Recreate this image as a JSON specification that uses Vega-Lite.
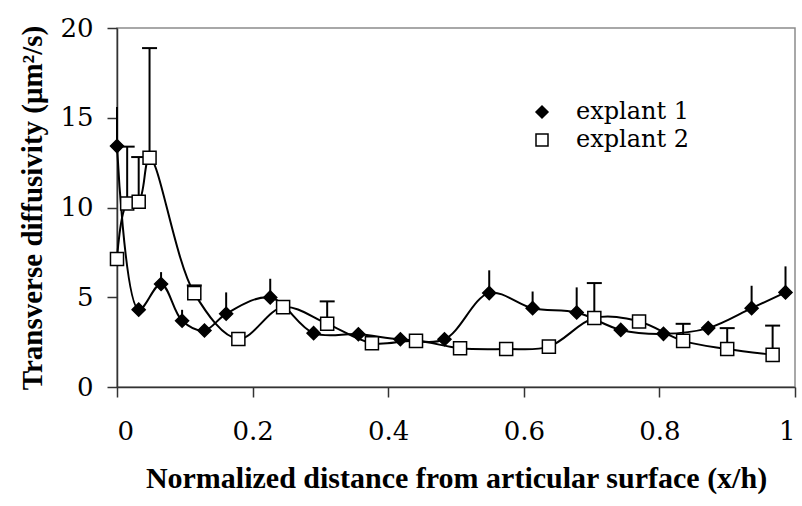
{
  "$schema": "https://vega.github.io/schema/vega-lite/v6.json",
  "width": 678,
  "height": 359,
  "autosize": {"type": "none"},
  "padding": {"left": 117, "top": 28, "right": 7, "bottom": 119},
  "background": "white",
  "config": {
    "view": {"stroke": "#8c8c8c", "strokeWidth": 1.5},
    "axis": {
      "grid": false,
      "domainColor": "#333333",
      "domainWidth": 1.5,
      "tickColor": "#333333",
      "tickWidth": 1.5,
      "tickSize": 10,
      "labelColor": "black",
      "labelFont": "Nimbus Roman, DejaVu Serif",
      "labelFontSize": 26,
      "titleFont": "Liberation Serif",
      "titleFontWeight": "bold",
      "titleColor": "black"
    },
    "legend": {
      "title": null,
      "orient": "none",
      "legendX": 413,
      "legendY": 72,
      "padding": 0,
      "rowPadding": 4,
      "symbolSize": 144,
      "labelFont": "Nimbus Roman, DejaVu Serif",
      "labelFontSize": 24,
      "labelColor": "black",
      "labelOffset": 22
    }
  },
  "datasets": {
    "pts": [
      {"x": 0.0, "y": 13.42, "s": "explant 1"},
      {"x": 0.032, "y": 4.31, "s": "explant 1"},
      {"x": 0.065, "y": 5.74, "s": "explant 1"},
      {"x": 0.096, "y": 3.69, "s": "explant 1"},
      {"x": 0.129, "y": 3.15, "s": "explant 1"},
      {"x": 0.161, "y": 4.08, "s": "explant 1"},
      {"x": 0.226, "y": 4.99, "s": "explant 1"},
      {"x": 0.29, "y": 3.0, "s": "explant 1"},
      {"x": 0.356, "y": 2.94, "s": "explant 1"},
      {"x": 0.418, "y": 2.66, "s": "explant 1"},
      {"x": 0.483, "y": 2.66, "s": "explant 1"},
      {"x": 0.549, "y": 5.23, "s": "explant 1"},
      {"x": 0.613, "y": 4.39, "s": "explant 1"},
      {"x": 0.678, "y": 4.15, "s": "explant 1"},
      {"x": 0.743, "y": 3.18, "s": "explant 1"},
      {"x": 0.806, "y": 2.96, "s": "explant 1"},
      {"x": 0.872, "y": 3.28, "s": "explant 1"},
      {"x": 0.936, "y": 4.39, "s": "explant 1"},
      {"x": 0.986, "y": 5.27, "s": "explant 1"},
      {"x": 0.0, "y": 7.13, "s": "explant 2"},
      {"x": 0.015, "y": 10.22, "s": "explant 2"},
      {"x": 0.032, "y": 10.32, "s": "explant 2"},
      {"x": 0.048, "y": 12.77, "s": "explant 2"},
      {"x": 0.114, "y": 5.23, "s": "explant 2"},
      {"x": 0.179, "y": 2.68, "s": "explant 2"},
      {"x": 0.245, "y": 4.45, "s": "explant 2"},
      {"x": 0.31, "y": 3.52, "s": "explant 2"},
      {"x": 0.376, "y": 2.44, "s": "explant 2"},
      {"x": 0.441, "y": 2.57, "s": "explant 2"},
      {"x": 0.506, "y": 2.16, "s": "explant 2"},
      {"x": 0.574, "y": 2.12, "s": "explant 2"},
      {"x": 0.637, "y": 2.25, "s": "explant 2"},
      {"x": 0.704, "y": 3.84, "s": "explant 2"},
      {"x": 0.77, "y": 3.65, "s": "explant 2"},
      {"x": 0.835, "y": 2.57, "s": "explant 2"},
      {"x": 0.9, "y": 2.12, "s": "explant 2"},
      {"x": 0.967, "y": 1.79, "s": "explant 2"}
    ],
    "err": [
      {"x": 0.0, "lo": 13.42, "hi": 15.6, "s": "explant 1"},
      {"x": 0.065, "lo": 5.74, "hi": 6.4, "s": "explant 1"},
      {"x": 0.096, "lo": 3.69, "hi": 4.3, "s": "explant 1"},
      {"x": 0.161, "lo": 4.08, "hi": 5.27, "s": "explant 1"},
      {"x": 0.226, "lo": 4.99, "hi": 6.03, "s": "explant 1"},
      {"x": 0.549, "lo": 5.23, "hi": 6.5, "s": "explant 1"},
      {"x": 0.613, "lo": 4.39, "hi": 5.32, "s": "explant 1"},
      {"x": 0.678, "lo": 4.15, "hi": 5.55, "s": "explant 1"},
      {"x": 0.936, "lo": 4.39, "hi": 5.64, "s": "explant 1"},
      {"x": 0.986, "lo": 5.27, "hi": 6.72, "s": "explant 1"},
      {"x": 0.015, "lo": 10.22, "hi": 13.39, "s": "explant 2"},
      {"x": 0.032, "lo": 10.32, "hi": 12.81, "s": "explant 2"},
      {"x": 0.048, "lo": 12.77, "hi": 18.88, "s": "explant 2"},
      {"x": 0.114, "lo": 5.23, "hi": 5.66, "s": "explant 2"},
      {"x": 0.31, "lo": 3.52, "hi": 4.77, "s": "explant 2"},
      {"x": 0.704, "lo": 3.84, "hi": 5.79, "s": "explant 2"},
      {"x": 0.835, "lo": 2.57, "hi": 3.52, "s": "explant 2"},
      {"x": 0.9, "lo": 2.12, "hi": 3.28, "s": "explant 2"},
      {"x": 0.967, "lo": 1.79, "hi": 3.42, "s": "explant 2"}
    ]
  },
  "layer": [
    {
      "data": {"name": "err"},
      "mark": {"type": "rule", "color": "black", "strokeWidth": 2},
      "encoding": {
        "x": {"field": "x", "type": "quantitative"},
        "y": {"field": "lo", "type": "quantitative"},
        "y2": {"field": "hi"}
      }
    },
    {
      "data": {"name": "err"},
      "transform": [{"filter": "datum.s == 'explant 2'"}],
      "mark": {"type": "point", "shape": "stroke", "size": 225, "stroke": "black", "strokeWidth": 2, "opacity": 1},
      "encoding": {
        "x": {"field": "x", "type": "quantitative"},
        "y": {"field": "hi", "type": "quantitative"}
      }
    },
    {
      "data": {"name": "pts"},
      "mark": {"type": "line", "color": "black", "strokeWidth": 2, "interpolate": "catmull-rom"},
      "encoding": {
        "x": {"field": "x", "type": "quantitative"},
        "y": {"field": "y", "type": "quantitative"},
        "detail": {"field": "s"}
      }
    },
    {
      "data": {"name": "pts"},
      "mark": {"type": "point", "filled": true, "stroke": "black", "strokeWidth": 1.5, "opacity": 1, "size": 170},
      "encoding": {
        "x": {
          "field": "x", "type": "quantitative",
          "scale": {"domain": [0, 1], "nice": false},
          "axis": {"values": [0, 0.2, 0.4, 0.6, 0.8, 1], "format": "~g", "labelPadding": 21, "title": "Normalized distance from articular surface (x/h)", "titleFontSize": 30, "titlePadding": 19}
        },
        "y": {
          "field": "y", "type": "quantitative",
          "scale": {"domain": [0, 20], "nice": false},
          "axis": {"values": [0, 5, 10, 15, 20], "labelPadding": 14, "title": "Transverse diffusivity (μm²/s)", "titleFontSize": 29, "titlePadding": 12}
        },
        "shape": {
          "field": "s", "type": "nominal",
          "scale": {"domain": ["explant 1", "explant 2"], "range": ["diamond", "square"]},
          "legend": {
            "encode": {
              "symbols": {
                "stroke": {"value": "black"},
                "strokeWidth": {"value": 1.5}
              }
            }
          }
        },
        "fill": {
          "field": "s", "type": "nominal",
          "scale": {"domain": ["explant 1", "explant 2"], "range": ["black", "white"]},
          "legend": {
            "encode": {
              "symbols": {
                "stroke": {"value": "black"},
                "strokeWidth": {"value": 1.5}
              }
            }
          }
        }
      }
    }
  ]
}
